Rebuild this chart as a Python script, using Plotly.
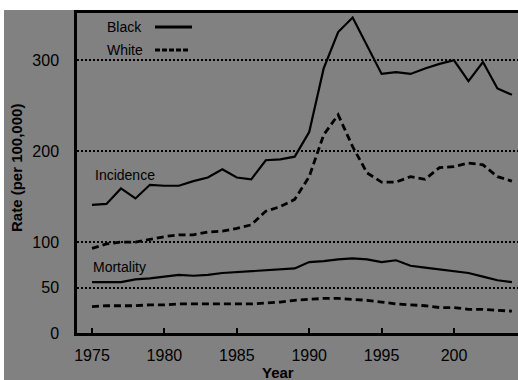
import plotly.graph_objects as go

# Prostate cancer rates per 100,000, by race
years = list(range(1975, 2005))

black_incidence = [141, 142, 159, 148, 163, 162, 162, 167, 171, 180,
                   171, 169, 190, 191, 194, 221, 291, 331, 347, 316,
                   285, 287, 285, 291, 296, 300, 277, 298, 269, 262]
white_incidence = [93, 98, 100, 100, 103, 106, 108, 108, 111, 112,
                   115, 119, 134, 139, 147, 172, 218, 240, 205, 176,
                   166, 166, 172, 169, 182, 183, 187, 185, 172, 167]
black_mortality = [56, 56, 56, 59, 60, 62, 64, 63, 64, 66,
                   67, 68, 69, 70, 71, 78, 79, 81, 82, 81,
                   78, 80, 74, 72, 70, 68, 66, 62, 58, 56]
white_mortality = [29, 30, 30, 30, 31, 31, 32, 32, 32, 32,
                   32, 32, 33, 34, 36, 37, 38, 38, 37, 36,
                   34, 32, 31, 30, 28, 28, 26, 26, 25, 24]

x_ticks = [1975, 1980, 1985, 1990, 1995, 2000]
x_tick_text = ["1975", "1980", "1985", "1990", "1995", "200"]
y_ticks = [0, 50, 100, 200, 300]
y_tick_text = ["0", "50", "100", "200", "300"]

FONT = "Liberation Sans, Arial, sans-serif"
GRAY = "#818181"
SOLID_W = 2.2
DASH_W = 2.8
DASH = "7px,4px"

fig = go.Figure()
fig.add_trace(go.Scatter(x=years, y=black_incidence, mode="lines",
                         line=dict(color="black", width=SOLID_W)))
fig.add_trace(go.Scatter(x=years, y=white_incidence, mode="lines",
                         line=dict(color="black", width=DASH_W, dash=DASH)))
fig.add_trace(go.Scatter(x=years, y=black_mortality, mode="lines",
                         line=dict(color="black", width=SOLID_W)))
fig.add_trace(go.Scatter(x=years, y=white_mortality, mode="lines",
                         line=dict(color="black", width=DASH_W, dash=DASH)))

# gray panel behind everything except a thin white border at top/left
fig.add_shape(type="rect", xref="paper", yref="paper",
              x0=-0.1655, x1=1.01, y0=-0.16, y1=1.009375,
              fillcolor=GRAY, line=dict(width=0), layer="below")

# hand-built legend: label first, line sample after
fig.add_annotation(x=0.0635, y=0.956, xref="paper", yref="paper",
                   text="Black", showarrow=False, xanchor="left", yanchor="middle",
                   font=dict(family=FONT, size=14, color="black"))
fig.add_annotation(x=0.0635, y=0.884, xref="paper", yref="paper",
                   text="White", showarrow=False, xanchor="left", yanchor="middle",
                   font=dict(family=FONT, size=14, color="black"))
fig.add_shape(type="line", xref="paper", yref="paper",
              x0=0.1769, x1=0.2608, y0=0.956, y1=0.956,
              line=dict(color="black", width=3))
fig.add_shape(type="line", xref="paper", yref="paper",
              x0=0.1769, x1=0.2562, y0=0.884, y1=0.884,
              line=dict(color="black", width=3, dash="5px,2px"))

fig.add_annotation(x=0.0363, y=0.494, xref="paper", yref="paper",
                   text="Incidence", showarrow=False, xanchor="left", yanchor="middle",
                   font=dict(family=FONT, size=14, color="black"))
fig.add_annotation(x=0.0317, y=0.206, xref="paper", yref="paper",
                   text="Mortality", showarrow=False, xanchor="left", yanchor="middle",
                   font=dict(family=FONT, size=14, color="black"))

# axis titles
fig.add_annotation(x=-0.1383, y=0.5156, xref="paper", yref="paper",
                   text="<b>Rate (per 100,000)</b>", textangle=-90, showarrow=False,
                   xanchor="center", yanchor="middle",
                   font=dict(family=FONT, size=15, color="black"))
fig.add_annotation(x=0.4558, y=-0.092, xref="paper", yref="paper",
                   text="<b>Year</b>", showarrow=False,
                   xanchor="center", yanchor="top",
                   font=dict(family=FONT, size=15, color="black"))

fig.update_xaxes(range=[1973.964, 2004.42], tickvals=x_ticks, ticktext=x_tick_text,
                 ticks="inside", ticklen=5, tickwidth=2, tickcolor="black",
                 showline=True, linecolor="black", linewidth=2.5, mirror=True,
                 showgrid=False, zeroline=False, ticklabelstandoff=6,
                 tickfont=dict(family=FONT, size=16, color="black"))
fig.update_yaxes(range=[0, 352], tickvals=y_ticks, ticktext=y_tick_text,
                 ticks="", showline=True, linecolor="black", linewidth=2.5,
                 showgrid=True, gridcolor="black", gridwidth=2, griddash="2px,2px",
                 zeroline=False, ticklabelstandoff=12,
                 tickfont=dict(family=FONT, size=16, color="black"))

fig.update_layout(width=518, height=380, showlegend=False,
                  margin=dict(l=77, r=0, t=13, b=47),
                  paper_bgcolor="white", plot_bgcolor="rgba(0,0,0,0)")

fig.write_html("out.html")
